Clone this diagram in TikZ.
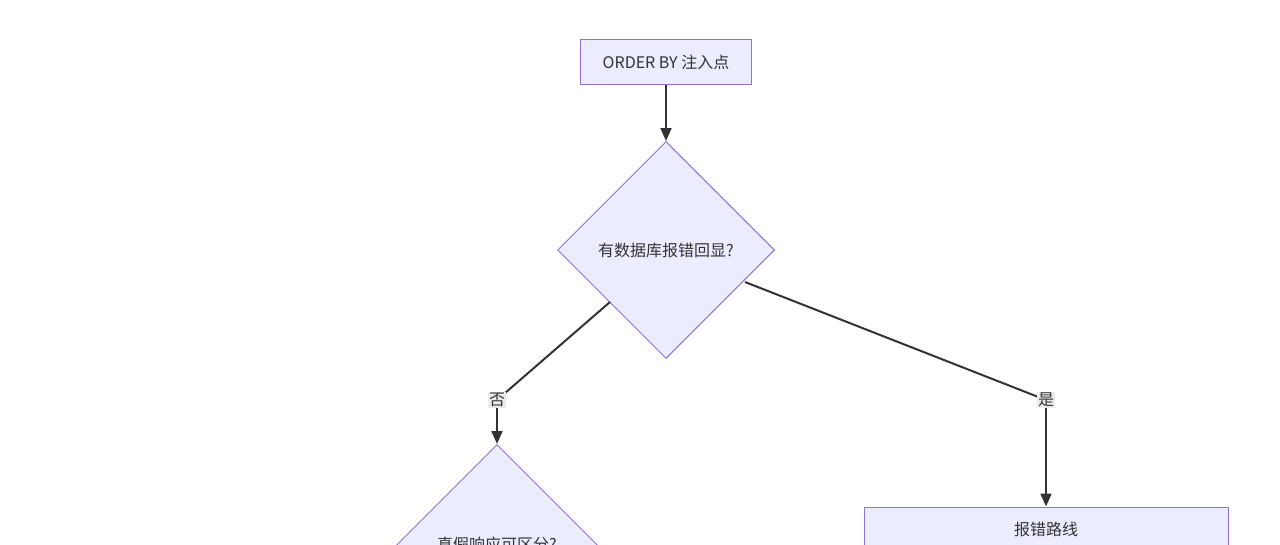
\documentclass[tikz,border=0pt]{standalone}
\usepackage{fontspec}
\setmainfont{Liberation Sans}
\newfontfamily\cjk{Noto Sans CJK SC}
\usetikzlibrary{shapes.geometric,arrows.meta}
\definecolor{nfill}{HTML}{ECECFF}
\definecolor{nline}{HTML}{9370DB}
\definecolor{eline}{HTML}{333333}
\begin{document}
\begin{tikzpicture}[x=1pt,y=-1pt,
  box/.style={draw=nline,fill=nfill,line width=1pt,inner sep=0pt,font=\fontsize{16}{19}\selectfont\cjk,text=eline},
  dia/.style={box,diamond,minimum width=217pt,minimum height=217pt},
  edge/.style={draw=eline,line width=2pt},
  arr/.style={edge,-{Triangle[length=13pt,width=11pt]}},
  lbl/.style={fill=black!8,inner sep=1pt,font=\fontsize{16}{19}\selectfont\cjk,text=eline}]
\useasboundingbox (0,0) rectangle (1280,544);
\clip (0,0) rectangle (1280,544);
\node[box,minimum width=171pt,minimum height=45pt] (a) at (666,62) {ORDER BY 注入点};
\node[dia] (b) at (666,250) {有数据库报错回显?};
\node[dia] (c) at (497,553) {};
\node[font=\fontsize{16}{19}\selectfont\cjk,text=eline] (ct) at (497,544) {真假响应可区分?};
\node[box,minimum width=364pt,minimum height=45pt] (d) at (1046,529.5) {报错路线};
\coordinate (p1) at (497,400);
\coordinate (p2) at (1046,400);
\draw[arr] (a) -- (b);
\draw[edge] (610,302) -- (p1);
\draw[arr] (p1) -- (c.north);
\draw[edge] (745,282) -- (p2);
\draw[arr] (p2) -- (d.north);
\node[lbl] (l1) at (p1) {否};
\node[lbl] (l2) at (p2) {是};
\end{tikzpicture}
\end{document}
